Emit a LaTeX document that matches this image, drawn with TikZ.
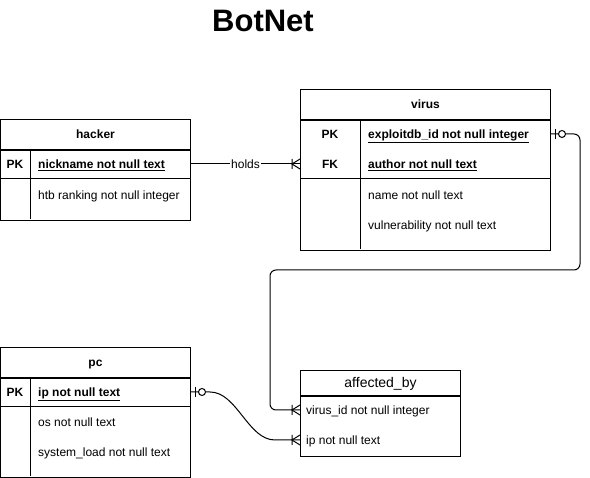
\documentclass[tikz,border=0pt]{standalone}
\usepackage{fontspec}
\setmainfont{Liberation Sans}
\usetikzlibrary{calc}
\tikzset{
  box/.style={draw,line width=1pt,minimum height=30pt,inner sep=0pt,anchor=north west},
  hd/.style={font=\bfseries\fontsize{12}{14}\selectfont,text height=10pt,text depth=1pt},
  fld/.style={anchor=west,inner sep=0pt,font=\fontsize{12}{14}\selectfont,text height=10pt,text depth=1pt},
  pkf/.style={fld,font=\bfseries\fontsize{12}{14}\selectfont},
  key/.style={inner sep=0pt,font=\bfseries\fontsize{12}{14}\selectfont,text height=10pt,text depth=1pt},
  conn/.style={line width=1pt},
  crow/.pic={\draw[line width=1pt] (-8,-5)--(-8,5) (0,-5)--(-8,0)--(0,5);},
  zeroone/.pic={\draw[line width=1pt] (4,-5)--(4,5); \draw[line width=1pt,fill=white] (11,0) circle (3.5pt);},
}
\begin{document}
\begin{tikzpicture}[x=1pt,y=-1pt]
\useasboundingbox (0,0) rectangle (590,478);
\node[font=\bfseries\fontsize{31}{35}\selectfont] (title) at (263,21) {BotNet};
% hacker
\node[box,hd,minimum width=190pt] (hacker) at (0,119) {hacker};
\node[box,minimum width=190pt,minimum height=70pt] (hackerbody) at (hacker.south west) {};
\draw[line width=1pt] (0,179)--(190,179) (30,149)--(30,219);
\node[key] (hpk) at (15,164) {PK};
\node[pkf] (hnick) at (38,164) {\underline{nickname not null text}};
\node[fld] (hrank) at (38,195) {htb ranking not null integer};
% virus
\node[box,hd,minimum width=250pt] (virus) at (300,89) {virus};
\node[box,minimum width=250pt,minimum height=130pt] (virusbody) at (virus.south west) {};
\draw[line width=1pt] (300,179)--(550,179) (360,119)--(360,249);
\node[key] (vpk) at (330,134) {PK};
\node[key] (vfk) at (330,164) {FK};
\node[pkf] (vid) at (368,134) {\underline{exploitdb\_id not null integer}};
\node[pkf] (vauthor) at (368,164) {\underline{author not null text}};
\node[fld] (vname) at (368,195) {name not null text};
\node[fld] (vvuln) at (368,225) {vulnerability not null text};
% pc
\node[box,hd,minimum width=190pt] (pc) at (0,347) {pc};
\node[box,minimum width=190pt,minimum height=99pt] (pcbody) at (pc.south west) {};
\draw[line width=1pt] (0,407)--(190,407) (30,377)--(30,476);
\node[key] (ppk) at (15,392) {PK};
\node[pkf] (pip) at (38,392) {\underline{ip not null text}};
\node[fld] (pos) at (38,422) {os not null text};
\node[fld] (pload) at (38,452) {system\_load not null text};
% affected_by
\node[box,font=\fontsize{14}{16}\selectfont,text height=11pt,text depth=1pt,minimum width=160pt,minimum height=25pt] (affected) at (300,370) {affected\_by};
\node[box,minimum width=160pt,minimum height=60pt] (affectedbody) at (affected.south west) {};
\node[fld] (avid) at (306,410) {virus\_id not null integer};
\node[fld] (aip) at (306,440) {ip not null text};
% relations
\draw[conn] (hackerbody.east |- hnick) -- node[fill=white,inner sep=1pt,font=\fontsize{12}{14}\selectfont,text height=10pt,text depth=1pt]{holds} (virusbody.west |- vfk);
\pic at (virusbody.west |- vfk) {crow};
\draw[conn,rounded corners=6pt] (virusbody.east |- vid) -- (580,134) -- (580,270) -- (270,270) -- (270,410) -- (affectedbody.west |- avid);
\pic at (virusbody.east |- vid) {zeroone};
\pic at (affectedbody.west |- avid) {crow};
\draw[conn] (pcbody.east |- pip) -- (210,392) .. controls (237,392) and (248,440) .. (275,440) -- (affectedbody.west |- aip);
\pic at (pcbody.east |- pip) {zeroone};
\pic at (affectedbody.west |- aip) {crow};
\end{tikzpicture}
\end{document}
